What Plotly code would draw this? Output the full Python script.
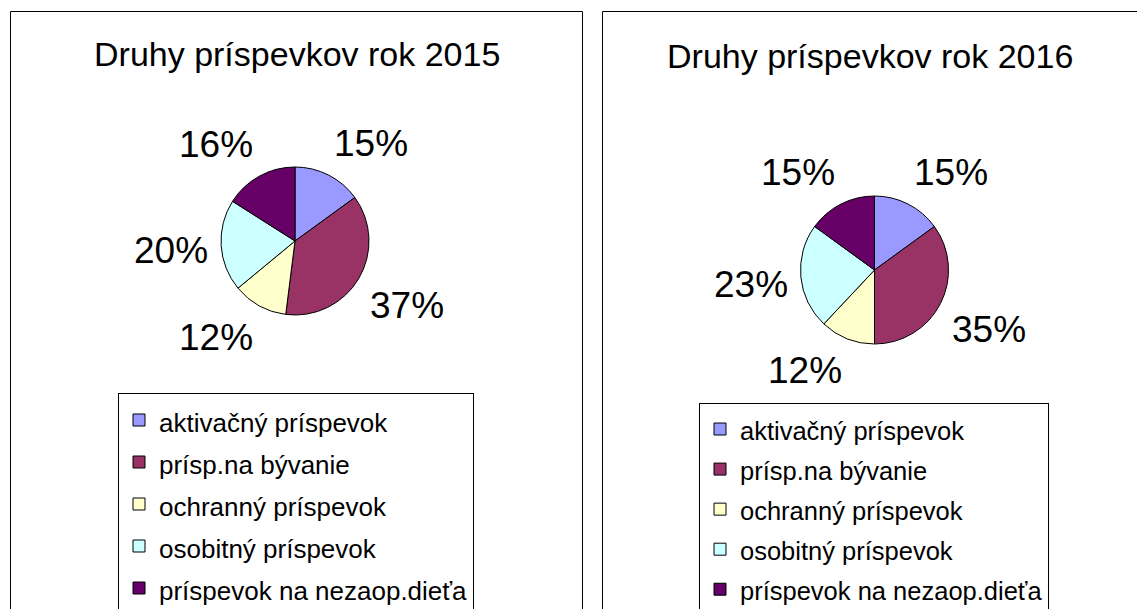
import math
import plotly.graph_objects as go

categories = ["aktivačný príspevok", "prísp.na bývanie", "ochranný príspevok",
              "osobitný príspevok", "príspevok na nezaop.dieťa"]
values_2015 = [15, 37, 12, 20, 16]
values_2016 = [15, 35, 12, 23, 15]
titles = ["Druhy príspevkov rok 2015", "Druhy príspevkov rok 2016"]
colors = ["#9999FF", "#993366", "#FFFFCC", "#CCFFFF", "#660066"]

W, H = 1137, 609
FONT = "Liberation Sans, Arial, sans-serif"
PIE_R = 74            # pie radius in px
LABEL_R = 87          # distance of label anchor from pie centre (px)
LABEL_HW, LABEL_HH = 37, 20   # half width / half height of a percent label (px)


def domain(cx, cy, r):
    return dict(x=[(cx - r) / W, (cx + r) / W], y=[1 - (cy + r) / H, 1 - (cy - r) / H])


def clamp(v):
    return max(-1.0, min(1.0, v))


panels = [
    # values, pie centre, legend id, group, title, title pos, legend pos, text size, row size
    (values_2015, (295, 241), "legend", "g2015", titles[0], (297, 54), (118, 393), 26, 30),
    (values_2016, (874.5, 270), "legend2", "g2016", titles[1], (870, 56), (699, 403), 25.5, 28.5),
]

fig = go.Figure()
legends = {}
for vals, (cx, cy), leg, grp, title, (tx, ty), (lx, ly), tsize, rsize in panels:
    labels = [f"<span style='font-size:{tsize}px'>{c}</span>" for c in categories]
    fig.add_trace(go.Pie(
        labels=labels, values=vals, sort=False, direction="clockwise", rotation=0,
        marker=dict(colors=colors, line=dict(color="black", width=1)),
        textinfo="none", domain=domain(cx, cy, PIE_R),
        legend=leg, legendgroup=grp, showlegend=True, hoverinfo="label+percent",
    ))
    # percentage labels placed outside each slice, derived from the slice mid-angle
    total = sum(vals)
    cum = 0
    for v in vals:
        mid = 2 * math.pi * (cum + v / 2) / total
        cum += v
        s, c = math.sin(mid), math.cos(mid)
        px = cx + LABEL_R * s + LABEL_HW * clamp(s / 0.3)
        py = cy - LABEL_R * c - LABEL_HH * clamp(c / 0.3)
        fig.add_annotation(text=f"{round(100 * v / total)}%", x=px / W, y=1 - py / H,
                           xref="paper", yref="paper", showarrow=False,
                           xanchor="center", yanchor="middle",
                           font=dict(family=FONT, size=37, color="black"))
    fig.add_annotation(text=title, x=tx / W, y=1 - ty / H, xref="paper", yref="paper",
                       showarrow=False, xanchor="center", yanchor="middle",
                       font=dict(family=FONT, size=34, color="black"))
    legends[leg] = dict(x=lx / W, y=1 - ly / H, bgcolor="white", bordercolor="black",
                        borderwidth=1, font=dict(family=FONT, size=rsize, color="black"),
                        xanchor="left", yanchor="top", orientation="v", visible=True)

# panel frames
fig.add_shape(type="rect", xref="paper", yref="paper",
              x0=10.5 / W, x1=582.5 / W, y0=-0.05, y1=1 - 11.5 / H,
              line=dict(color="black", width=1), fillcolor="rgba(0,0,0,0)")
fig.add_shape(type="rect", xref="paper", yref="paper",
              x0=602.5 / W, x1=1.05, y0=-0.05, y1=1 - 11.5 / H,
              line=dict(color="black", width=1), fillcolor="rgba(0,0,0,0)")

fig.update_layout(
    width=W, height=H, margin=dict(l=0, r=0, t=0, b=0, autoexpand=False),
    paper_bgcolor="white", plot_bgcolor="white", showlegend=True,
    font=dict(family=FONT, color="black"),
    **legends,
)

fig.write_html("out.html", config={"displayModeBar": False},
               post_script="document.body.style.margin='0';document.body.style.overflow='hidden';")
